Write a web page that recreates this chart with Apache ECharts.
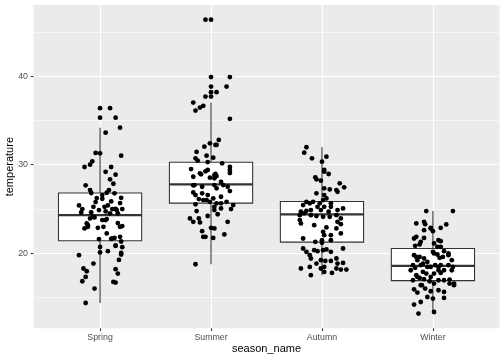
<!DOCTYPE html>
<html>
<head>
<meta charset="utf-8">
<script src="https://cdn.jsdelivr.net/npm/echarts@6/dist/echarts.min.js"></script>
<style>
  html, body { margin: 0; padding: 0; background: #fff; }
  #chart { width: 504px; height: 360px; }
</style>
</head>
<body>
<div id="chart"></div>
<script>
const seasons = ["Spring", "Summer", "Autumn", "Winter"];

// [lower whisker, Q1, median, Q3, upper whisker]
const boxStats = [
  [14.37, 21.4, 24.3, 26.8, 34.19],
  [18.75, 25.66, 27.78, 30.27, 37.02],
  [17.51, 21.25, 24.38, 25.85, 31.97],
  [13.17, 16.9, 18.56, 20.53, 24.76]
];

const outliers = [
  [36.39, 35.32],
  [46.39, 39.9, 38.83, 38.2, 37.7],
  [],
  []
];

// jittered points: [offset from category, temperature]
const springPoints = [
  [0.09,36.39],[0.14,35.32],[0.18,34.19],[0.05,33.62],[-0.04,31.33],[0.00,31.29],[0.19,31.02],[-0.07,30.38],
  [-0.14,29.74],[-0.09,30.0],[0.10,29.74],[0.05,29.2],[0.14,28.87],[0.09,28.35],[-0.13,27.67],[0.12,27.85],
  [-0.09,27.13],[0.08,27.13],[-0.08,26.8],[0.06,26.83],[0.02,26.57],[0.13,26.76],[0.19,26.26],[-0.03,26.23],
  [0.02,26.15],[-0.04,25.78],[0.10,25.85],[0.18,25.66],[-0.19,25.4],[0.07,25.4],
  [-0.16,24.98],[-0.06,25.24],[0.04,25.24],[0.11,24.98],[0.15,24.87],[0.20,24.98],[-0.06,24.11],[-0.09,23.93],
  [-0.12,23.36],[-0.11,22.98],[-0.14,22.8],[0.05,23.74],[0.03,22.98],[0.18,22.98],[0.06,22.23],[0.11,21.66],
  [0.13,21.73],[0.18,21.85],[-0.01,21.59],[0.00,20.71],[0.00,20.08],[0.07,20.23],[0.14,20.83],[0.20,20.68],
  [-0.19,19.77],[-0.06,18.83],[0.19,19.85],[-0.15,18.27],[-0.12,17.96],[-0.13,17.32],[-0.16,16.83],[0.14,18.19],
  [0.16,17.7],[0.12,16.75],[-0.05,16.0],[-0.13,14.37],
  [-0.17,24.6],[-0.08,24.6],[-0.01,24.87],[0.05,24.72],[0.09,24.5],[0.14,25.0],[0.16,24.5],[-0.05,24.04],
  [0.02,23.74],[0.06,23.85],[0.16,23.4],[0.20,23.06],[-0.11,23.17],[-0.02,22.87],[0.10,21.62],[0.19,21.32],
  [0.14,20.87],[0.19,20.03],[0.17,19.24],[0.14,16.68]
];

const summerPoints = [
  [-0.05,46.39],[0.17,39.9],[0.14,38.83],[0.05,38.2],[-0.05,37.7],[-0.16,37.02],[-0.07,36.65],[-0.10,36.46],
  [-0.14,36.12],[0.17,35.18],[0.07,32.8],[-0.01,32.42],[0.04,32.23],[0.05,32.23],[-0.06,32.04],[-0.13,31.44],
  [-0.04,31.02],[-0.14,30.72],[0.02,30.79],[-0.12,30.45],[0.10,30.16],[-0.18,29.51],[-0.03,29.4],[0.17,29.74],
  [0.17,29.4],[0.17,29.06],[-0.16,28.64],[0.03,28.83],[0.05,28.72],[-0.09,28.91],
  [-0.01,28.53],[0.03,28.46],[-0.15,27.7],[-0.08,27.51],[0.03,27.7],[0.05,27.33],[0.11,27.7],[0.15,27.51],
  [0.17,27.02],[-0.16,26.87],[-0.14,26.57],[-0.08,26.76],[-0.03,26.57],[0.02,26.19],[-0.11,26.12],[-0.07,26.0],
  [-0.14,25.52],[-0.04,26.0],[-0.01,25.81],[0.05,25.63],[0.09,25.63],[0.14,25.81],[0.20,25.44],[0.18,24.98],
  [0.03,24.87],[-0.19,23.93],[-0.16,23.54],[-0.11,23.93],[-0.10,23.48],[0.15,23.54],[0.00,22.87],[0.03,22.8],
  [-0.08,22.49],[-0.07,21.85],[-0.05,21.85],[0.02,21.73],[0.12,22.12],[-0.14,18.75],
  [-0.03,30.3],[-0.10,29.03],[0.04,28.95],[-0.05,29.25],[-0.16,27.67],[0.09,28.07],[0.09,26.38],[0.03,25.24],
  [0.09,25.06],[-0.13,24.76],[0.06,24.4],[-0.03,24.2]
];

const autumnPoints = [
  [-0.14,31.97],[-0.16,31.36],[-0.09,30.72],[0.04,30.91],[0.00,30.34],[0.02,29.4],[0.02,29.21],[0.06,28.95],
  [-0.06,28.57],[-0.05,28.35],[-0.01,28.19],[0.02,27.33],[0.07,27.21],[0.13,27.13],[0.16,27.89],[0.20,27.44],
  [0.14,26.94],[-0.05,26.76],[0.02,26.57],[0.01,26.0],[0.04,26.19],[-0.14,25.81],[-0.11,25.63],[-0.08,25.81],
  [-0.02,25.63],[0.08,25.63],[-0.17,25.44],[-0.04,25.24],[0.02,25.24],[0.08,25.24],[0.14,24.87],[0.19,25.06],
  [-0.19,24.68],[-0.14,24.79],[-0.10,24.87],[-0.01,24.87],[0.06,24.68],[-0.20,24.3],[-0.16,24.5],[-0.10,24.3],
  [-0.05,24.19],[0.01,24.11],[0.07,24.11],[0.13,24.3],[0.17,23.93],[-0.20,23.74],[-0.19,23.36],[-0.07,23.17],
  [0.14,23.54],[0.04,22.91],[0.17,23.28],[0.01,22.41],[0.02,22.04],[0.08,22.04],[0.17,22.23],[0.13,22.8],
  [0.00,21.47],[-0.17,21.66],[-0.17,20.53],[-0.06,21.28],[0.00,21.17],[0.08,21.47],[0.19,20.53],[-0.14,20.15],
  [-0.11,19.77],[-0.07,20.34],[-0.04,20.23],[0.01,20.34],[0.04,20.42],[0.08,20.15],[-0.10,19.4],[-0.01,19.21],
  [0.03,19.13],[0.08,19.13],[0.13,19.4],[0.19,18.9],[-0.05,18.83],[0.14,18.83],[-0.11,18.45],[-0.01,18.27],
  [0.02,18.45],[0.17,18.15],[0.02,17.88],[-0.19,18.27],[0.09,17.77],[0.13,18.27],[0.22,18.15],[-0.10,17.51]
];

const winterPoints = [
  [-0.06,24.76],[0.18,24.76],[-0.15,23.36],[-0.08,23.54],[-0.02,22.87],[0.00,22.49],[0.07,22.87],[0.12,23.25],
  [-0.15,21.85],[-0.17,21.66],[-0.08,21.73],[-0.11,21.28],[0.07,21.36],[0.01,21.1],[0.04,20.71],[-0.16,20.83],
  [-0.12,20.99],[0.10,20.23],[0.00,20.15],[0.04,19.85],[0.06,19.47],[0.09,19.58],[0.14,19.77],[0.17,19.21],
  [-0.17,19.77],[-0.12,19.58],[-0.08,19.4],[-0.14,19.21],[-0.05,19.01],[-0.18,18.64],[-0.16,18.34],[-0.11,18.64],
  [-0.02,18.45],[0.02,18.64],[0.07,18.64],[0.14,18.64],[0.18,18.45],[-0.09,17.88],[0.05,18.07],[0.01,17.7],
  [0.10,18.07],[0.17,18.07],[-0.15,17.51],[-0.06,17.7],[-0.20,18.07],[-0.18,16.94],[-0.12,17.2],[-0.08,17.06],
  [-0.03,16.83],[0.01,16.57],[0.05,16.94],[0.10,16.94],[0.15,16.57],[0.19,16.57],[-0.11,16.38],[-0.17,15.92],
  [-0.07,16.0],[-0.14,15.55],[-0.02,15.7],[0.05,15.81],[0.10,15.62],[-0.05,15.05],[0.00,14.87],[0.10,14.94],
  [-0.17,14.19],[-0.11,14.48],[-0.13,13.17],[0.01,13.35],
  [-0.07,23.28],[-0.08,22.6],[-0.02,22.8],[0.05,21.47],[0.07,20.71],[0.01,19.97],[0.14,19.97],[-0.15,19.58],
  [-0.09,18.83],[-0.05,18.45],[0.05,18.45],[-0.14,17.32],[-0.02,17.32],[0.07,17.77],[0.15,17.02],[-0.10,16.38],
  [0.19,16.38]
];

const xTicks = [1, 2, 3, 4];
const yMajorTicks = [20, 30, 40];
const yMinorTicks = [15, 25, 35, 45];
const xRange = [0.4, 4.6];
const yRange = [11.51, 48.05];

const pointSets = [springPoints, summerPoints, autumnPoints, winterPoints];
const jitterData = pointSets.flatMap((pts, i) => pts.map(([dx, t]) => [i + 1 + dx, t]));
const outlierData = outliers.flatMap((vals, i) => vals.map((t) => [i + 1, t]));
const boxData = boxStats.map((s, i) => [i + 1, ...s]);

const font = '"Liberation Sans", Arial, Helvetica, sans-serif';
const chart = echarts.init(document.getElementById("chart"), null, { renderer: "canvas" });

chart.setOption({
  animation: false,
  grid: {
    left: 33.5, right: 4.5, top: 5, bottom: 31.7,
    outerBoundsMode: "none",
    containLabel: false,
    show: true, backgroundColor: "#EBEBEB", borderWidth: 0
  },
  xAxis: {
    type: "value",
    min: xRange[0],
    max: xRange[1],
    name: "season_name",
    nameLocation: "middle",
    nameGap: 15,
    nameMoveOverlap: false,
    nameTextStyle: { color: "#000", fontSize: 11, fontFamily: font },
    axisLine: { show: false },
    axisTick: { customValues: xTicks, length: 2.75, lineStyle: { color: "#333", width: 1.07 } },
    axisLabel: {
      customValues: xTicks,
      formatter: (v) => seasons[Math.round(v) - 1],
      color: "#4D4D4D", fontSize: 8.8, fontFamily: font, margin: 5
    },
    splitLine: { show: true, lineStyle: { color: "#fff", width: 1.07 } }
  },
  yAxis: [
    {
      type: "value",
      min: yRange[0],
      max: yRange[1],
      name: "temperature",
      nameLocation: "middle",
      nameRotate: 90,
      nameGap: 18,
      nameMoveOverlap: false,
      nameTextStyle: { color: "#000", fontSize: 11, fontFamily: font },
      axisLine: { show: false },
      axisTick: { customValues: yMajorTicks, length: 2.75, lineStyle: { color: "#333", width: 1.07 } },
      axisLabel: { customValues: yMajorTicks, color: "#4D4D4D", fontSize: 8.8, fontFamily: font, margin: 5.5 },
      splitLine: { show: true, lineStyle: { color: "#fff", width: 1.07 } }
    },
    {
      type: "value",
      min: yRange[0],
      max: yRange[1],
      axisLine: { show: false },
      axisTick: { show: false, customValues: yMinorTicks },
      axisLabel: { show: false, customValues: yMinorTicks },
      splitLine: { show: true, lineStyle: { color: "#fff", width: 0.55 } }
    }
  ],
  series: [
    {
      type: "custom",
      data: boxData,
      encode: { x: 0, y: [1, 2, 3, 4, 5] },
      renderItem: (params, api) => {
        const x = api.value(0);
        const half = api.size([0.75, 0])[0] / 2;
        const lo = api.coord([x, api.value(1)]);
        const q1 = api.coord([x, api.value(2)]);
        const med = api.coord([x, api.value(3)]);
        const q3 = api.coord([x, api.value(4)]);
        const hi = api.coord([x, api.value(5)]);
        const stroke = { stroke: "#333", lineWidth: 1.07 };
        return {
          type: "group",
          children: [
            { type: "line", shape: { x1: lo[0], y1: lo[1], x2: q1[0], y2: q1[1] }, style: stroke },
            { type: "line", shape: { x1: q3[0], y1: q3[1], x2: hi[0], y2: hi[1] }, style: stroke },
            {
              type: "rect",
              shape: { x: q3[0] - half, y: q3[1], width: half * 2, height: q1[1] - q3[1] },
              style: { fill: "#fff", stroke: "#333", lineWidth: 1.07 }
            },
            {
              type: "line",
              shape: { x1: med[0] - half, y1: med[1], x2: med[0] + half, y2: med[1] },
              style: { stroke: "#333", lineWidth: 2.13 }
            }
          ]
        };
      }
    },
    {
      type: "scatter",
      data: outlierData,
      symbolSize: 4.8,
      itemStyle: { color: "#000", opacity: 1 }
    },
    {
      type: "scatter",
      data: jitterData,
      symbolSize: 4.8,
      itemStyle: { color: "#000", opacity: 1 }
    }
  ]
});
</script>
</body>
</html>
